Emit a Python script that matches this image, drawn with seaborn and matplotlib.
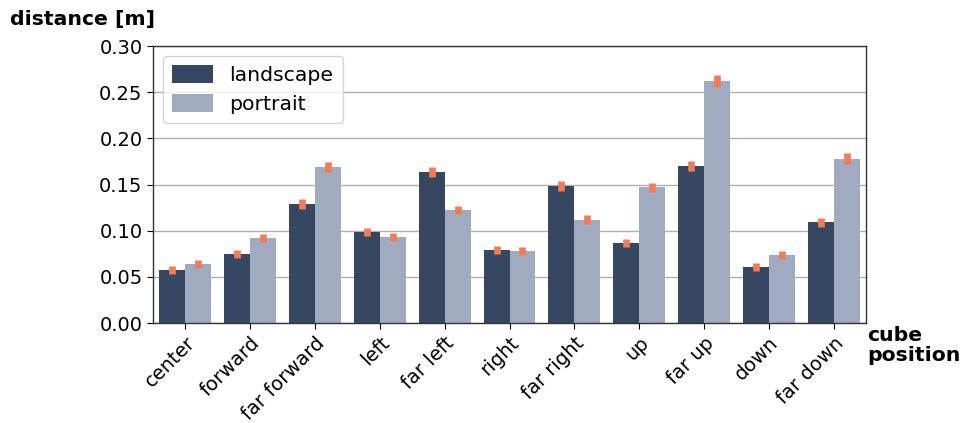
import matplotlib
matplotlib.use("Agg")
import matplotlib.pyplot as plt
import seaborn as sns
import pandas as pd

# cube positions along the x axis
positions = ["center", "forward", "far forward", "left", "far left", "right",
             "far right", "up", "far up", "down", "far down"]

# mean distance [m] per orientation
landscape = [0.0574, 0.0748, 0.129, 0.0986, 0.1636, 0.0791,
             0.1484, 0.0867, 0.170, 0.0607, 0.109]
portrait = [0.064, 0.092, 0.169, 0.093, 0.1224, 0.078,
            0.1116, 0.147, 0.262, 0.0737, 0.1777]

# half-height of the uncertainty interval around each mean
err_landscape = [0.0042, 0.0045, 0.0052, 0.0045, 0.0054, 0.0047,
                 0.0056, 0.0047, 0.0054, 0.0045, 0.0047]
err_portrait = [0.0042, 0.0045, 0.0052, 0.0043, 0.0045, 0.0045,
                0.0049, 0.0049, 0.0061, 0.0047, 0.0060]

orientations = ["landscape", "portrait"]
colors = {"landscape": "#364761", "portrait": "#a0abc2"}
err_color = "#f47b55"

df = pd.DataFrame({
    "position": positions * 2,
    "orientation": ["landscape"] * len(positions) + ["portrait"] * len(positions),
    "distance": landscape + portrait,
})
errors = {"landscape": err_landscape, "portrait": err_portrait}

plt.rcParams["font.family"] = ["DejaVu Sans"]
plt.rcParams["font.size"] = 14

fig = plt.figure(figsize=(9.61, 4.23), dpi=100)
ax = fig.add_axes([0.1592, 0.2364, 0.742, 0.6548])

sns.barplot(data=df, x="position", y="distance", hue="orientation",
            order=positions, hue_order=orientations, palette=colors,
            saturation=1, errorbar=None, width=0.8, ax=ax, zorder=2)

# uncertainty markers centred on each bar top
for name, container in zip(orientations, ax.containers):
    xs = [p.get_x() + p.get_width() / 2 for p in container.patches]
    ys = [p.get_height() for p in container.patches]
    ax.errorbar(xs, ys, yerr=errors[name], fmt="none", ecolor=err_color,
                elinewidth=4.8, capsize=0, zorder=4)

ax.set_ylim(0, 0.30)
ax.set_yticks([0.0, 0.05, 0.10, 0.15, 0.20, 0.25, 0.30])
ax.set_yticklabels([f"{v:.2f}" for v in ax.get_yticks()])
ax.set_xlim(-0.5, len(positions) - 0.5)
ax.yaxis.grid(True, color="#b0b0b0", linewidth=1.0, zorder=0)
ax.set_axisbelow(True)

ax.tick_params(axis="both", labelsize=14, direction="out", length=4)
plt.setp(ax.get_xticklabels(), rotation=45, ha="right", rotation_mode="anchor")

for spine in ax.spines.values():
    spine.set_color("#333333")
    spine.set_linewidth(1.0)

ax.set_ylabel("distance [m]", fontsize=14.7, fontweight="bold", rotation=0,
              ha="left", va="center")
ax.yaxis.set_label_coords(-0.2006, 1.094)
ax.set_xlabel("cube\nposition", fontsize=14.7, fontweight="bold",
              ha="left", va="top", linespacing=1.05)
ax.xaxis.set_label_coords(1.001, -0.01)

ax.legend(loc="upper left", fontsize=14.7, frameon=True, title=None,
          borderpad=0.45, handlelength=2.0, handleheight=0.95,
          labelspacing=0.45)

fig.savefig("out.png", dpi=100)
